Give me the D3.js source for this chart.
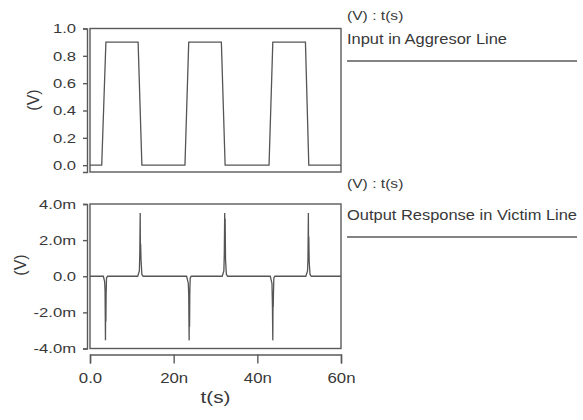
<!DOCTYPE html>
<html>
<head>
  <meta charset="utf-8">
  <title>Crosstalk</title>
  <script src="https://d3js.org/d3.v7.min.js"></script>
  <style>
    body { margin: 0; background: #fff; }
    text { font-family: "Liberation Sans", Arial, sans-serif; fill: #383838; }
  </style>
</head>
<body>
  <svg width="583" height="420"></svg>
  <script>
    // time in ns, input in V
    var inputT = [0, 2.8, 3.8, 11.5, 12.4, 22.7, 23.6, 31.4, 32.3, 42.8, 43.7, 51.5, 52.3, 60];
    var inputV = [0, 0, 0.9, 0.9, 0, 0, 0.9, 0.9, 0, 0, 0.9, 0.9, 0, 0];

    // time in ns, output in mV
    var outputT = [0, 3.2, 3.5, 3.6, 3.7, 3.75, 3.8, 3.85, 3.95, 4.2,
                   11.4, 11.8, 11.9, 12.0, 12.05, 12.1, 12.2, 12.4, 12.7,
                   23.1, 23.5, 23.6, 23.7, 23.75, 23.8, 23.85, 23.95, 24.2,
                   31.6, 32.0, 32.1, 32.2, 32.25, 32.3, 32.4, 32.6, 32.9,
                   43.1, 43.5, 43.6, 43.7, 43.75, 43.8, 43.85, 43.95, 44.2,
                   51.6, 52.0, 52.1, 52.2, 52.25, 52.3, 52.4, 52.6, 52.9, 60];
    var outputV = [0, 0, -0.3, -0.8, -3.55, -0.9, -2.5, -1.0, -0.1, 0,
                   0, 0.3, 1.2, 3.5, 1.3, 1.8, 0.9, 0.1, 0,
                   0, -0.4, -1.0, -3.55, -1.1, -2.8, -1.0, -0.1, 0,
                   0, 0.3, 1.2, 3.5, 1.3, 3.2, 0.9, 0.1, 0,
                   0, -0.4, -1.5, -3.55, -1.4, -1.7, -1.0, -0.1, 0,
                   0, 0.3, 0.9, 3.5, 1.0, 2.2, 0.8, 0.1, 0, 0];

    var xTicks = [0, 20, 40, 60];
    var xTickLabels = ["0.0", "20n", "40n", "60n"];
    var topTicks = [0, 0.2, 0.4, 0.6, 0.8, 1.0];
    var topTickLabels = ["0.0", "0.2", "0.4", "0.6", "0.8", "1.0"];
    var botTicks = [-4, -2, 0, 2, 4];
    var botTickLabels = ["-4.0m", "-2.0m", "0.0", "2.0m", "4.0m"];
    var legendTitles = ["(V) : t(s)", "(V) : t(s)"];
    var legendNames = ["Input in Aggresor Line", "Output Response in Victim Line"];

    var svg = d3.select("svg");
    var ink = "#5a5a5a";

    // the source picture is a little wide, so text is stretched sideways
    function widen(sel, k) {
      sel.each(function() {
        var w = this.getComputedTextLength();
        d3.select(this).attr("textLength", w * k).attr("lengthAdjust", "spacingAndGlyphs");
      });
    }

    var x = d3.scaleLinear().domain([0, 60]).range([90, 341]);
    var yTop = d3.scaleLinear().domain([-0.05, 1.0]).range([172, 28.5]);
    var yBot = d3.scaleLinear().domain([-4, 4]).range([348.5, 204]);

    function panel(y, ticks, labels, tVals, vVals, labelX, labelY) {
      var r = y.range();
      // frame
      svg.append("rect")
        .attr("x", x(0)).attr("y", r[1])
        .attr("width", x(60) - x(0)).attr("height", r[0] - r[1])
        .attr("fill", "none").attr("stroke", ink).attr("stroke-width", 1.4);

      // y axis, set a little left of the frame
      var ax = svg.append("g")
        .attr("transform", "translate(87,0)")
        .call(d3.axisLeft(y).tickValues(ticks).tickSize(4).tickPadding(7)
          .tickFormat(function(d, i) { return labels[i]; }));
      ax.select(".domain").attr("stroke", ink).attr("stroke-width", 1.4);
      ax.selectAll(".tick line").attr("stroke", ink).attr("stroke-width", 1.4);
      ax.selectAll("text").style("font-size", "13px")
        .style("font-family", "'Liberation Sans', Arial, sans-serif").attr("fill", "#383838")
        .call(widen, 1.28);

      svg.append("text")
        .attr("transform", "translate(" + labelX + "," + labelY + ") rotate(-90)")
        .attr("text-anchor", "middle").attr("dy", "0.35em")
        .style("font-size", "16px").text("(V)");

      var pts = tVals.map(function(t, i) { return [t, vVals[i]]; });
      svg.append("path")
        .datum(pts)
        .attr("fill", "none").attr("stroke", "#555").attr("stroke-width", 1.3)
        .attr("d", d3.line().x(function(d) { return x(d[0]); }).y(function(d) { return y(d[1]); }));
    }

    panel(yTop, topTicks, topTickLabels, inputT, inputV, 33, 100);
    panel(yBot, botTicks, botTickLabels, outputT, outputV, 20, 265);

    // bottom time axis
    var xa = svg.append("g")
      .attr("transform", "translate(0,354.5)")
      .call(d3.axisBottom(x).tickValues(xTicks).tickSize(9).tickPadding(10)
        .tickFormat(function(d, i) { return xTickLabels[i]; }));
    xa.select(".domain").attr("stroke", ink).attr("stroke-width", 1.4);
    xa.selectAll(".tick line").attr("stroke", ink).attr("stroke-width", 1.4);
    xa.selectAll("text").style("font-size", "14px")
      .style("font-family", "'Liberation Sans', Arial, sans-serif").attr("fill", "#383838")
      .call(widen, 1.2);

    svg.append("text")
      .attr("x", (x(0) + x(60)) / 2).attr("y", 403)
      .attr("text-anchor", "middle")
      .style("font-size", "17px").text("t(s)")
      .call(widen, 1.22);

    // legends on the right
    var legY = [[15, 39, 61], [183, 215, 237]];
    var legW = [160, 230];
    legendNames.forEach(function(name, i) {
      svg.append("text").attr("x", 347).attr("y", legY[i][0]).attr("dy", "0.35em")
        .style("font-size", "13px").text(legendTitles[i])
        .call(widen, 1.2);
      svg.append("text").attr("x", 347).attr("y", legY[i][1]).attr("dy", "0.35em")
        .style("font-size", "14px").text(name)
        .attr("textLength", legW[i]).attr("lengthAdjust", "spacingAndGlyphs");
      svg.append("line")
        .attr("x1", 347).attr("x2", 577)
        .attr("y1", legY[i][2]).attr("y2", legY[i][2])
        .attr("stroke", ink).attr("stroke-width", 1.4);
    });
  </script>
</body>
</html>
